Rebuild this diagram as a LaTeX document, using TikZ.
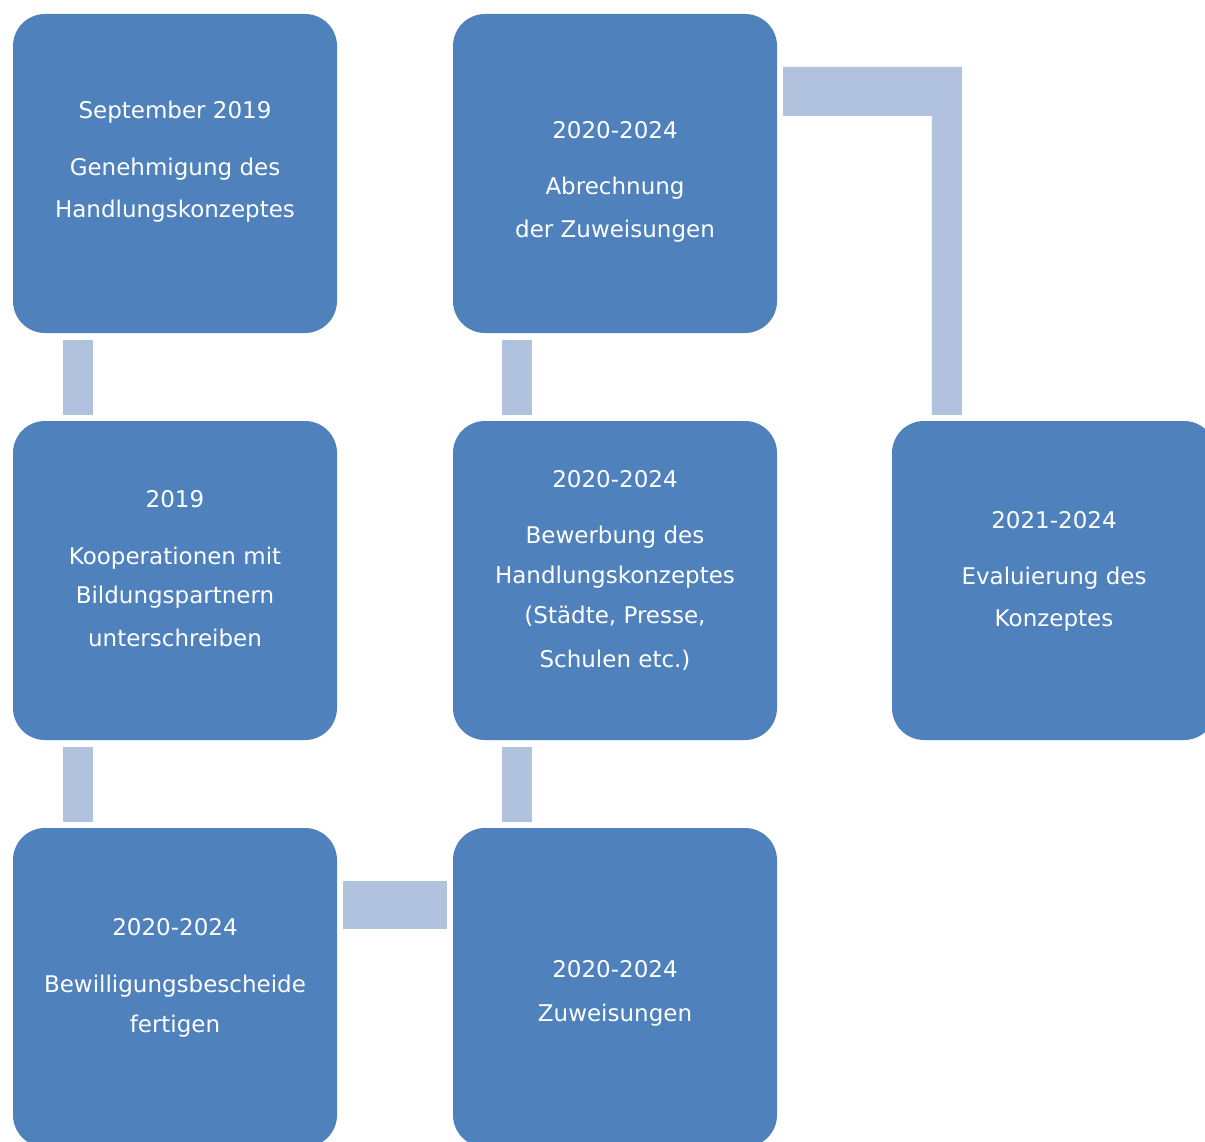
\documentclass[tikz,border=0pt]{standalone}
\usepackage{fontspec}
\setmainfont{DejaVu Sans}
\usetikzlibrary{calc}
\definecolor{boxblue}{HTML}{4F81BD}
\definecolor{barblue}{HTML}{B0C2DD}
\tikzset{
  stagebox/.style={fill=boxblue, draw=none, rounded corners=32pt, minimum width=324pt, minimum height=319pt, inner sep=0pt},
  bar/.style={fill=barblue, draw=none},
  lbl/.style={anchor=base, text=white, inner sep=0pt, font=\fontsize{23}{28}\selectfont}
}
\begin{document}
\begin{tikzpicture}[x=1pt, y=-1pt]
\useasboundingbox (0,0) rectangle (1205,1142);
\clip (0,0) rectangle (1205,1142);
% boxes
\node[stagebox] (A) at (175,173.5) {};
\node[stagebox] (B) at (175,580.5) {};
\node[stagebox] (C) at (175,987.5) {};
\node[stagebox] (D) at (615,987.5) {};
\node[stagebox] (E) at (615,580.5) {};
\node[stagebox] (F) at (615,173.5) {};
\node[stagebox] (G) at (1054,580.5) {};
% connectors
\fill[bar] ($(A.south west)+(50,7)$) rectangle ($(B.north west)+(80,-6)$);
\fill[bar] ($(B.south west)+(50,7)$) rectangle ($(C.north west)+(80,-6)$);
\fill[bar] ($(C.north east)+(6,53)$) rectangle ($(D.north west)+(-6,101)$);
\fill[bar] ($(E.south west)+(49,7)$) rectangle ($(D.north west)+(79,-6)$);
\fill[bar] ($(F.south west)+(49,7)$) rectangle ($(E.north west)+(79,-6)$);
\fill[bar] ($(F.north east)+(6,53)$) -| ($(G.north west)+(70,-6)$) -- ($(G.north west)+(40,-6)$) |- ($(F.north east)+(6,102)$) -- cycle;
% labels A
\node[lbl] (a1) at (175,119) {September 2019};
\node[lbl] (a2) at (175,176) {Genehmigung des};
\node[lbl] (a3) at (175,218) {Handlungskonzeptes};
% labels B
\node[lbl] (b1) at (175,507) {2019};
\node[lbl] (b2) at (175,564) {Kooperationen mit};
\node[lbl] (b3) at (175,603) {Bildungspartnern};
\node[lbl] (b4) at (175,646) {unterschreiben};
% labels C
\node[lbl] (c1) at (175,935) {2020-2024};
\node[lbl] (c2) at (175,992) {Bewilligungsbescheide};
\node[lbl] (c3) at (175,1032) {fertigen};
% labels D
\node[lbl] (d1) at (615,977) {2020-2024};
\node[lbl] (d2) at (615,1021) {Zuweisungen};
% labels E
\node[lbl] (e1) at (615,487) {2020-2024};
\node[lbl] (e2) at (615,543) {Bewerbung des};
\node[lbl] (e3) at (615,583) {Handlungskonzeptes};
\node[lbl] (e4) at (615,623) {(Städte, Presse,};
\node[lbl] (e5) at (615,667) {Schulen etc.)};
% labels F
\node[lbl] (f1) at (615,139) {2020-2024};
\node[lbl] (f2) at (615,195) {Abrechnung};
\node[lbl] (f3) at (615,238) {der Zuweisungen};
% labels G
\node[lbl] (g1) at (1054,528) {2021-2024};
\node[lbl] (g2) at (1054,584) {Evaluierung des};
\node[lbl] (g3) at (1054,626) {Konzeptes};
\end{tikzpicture}
\end{document}
